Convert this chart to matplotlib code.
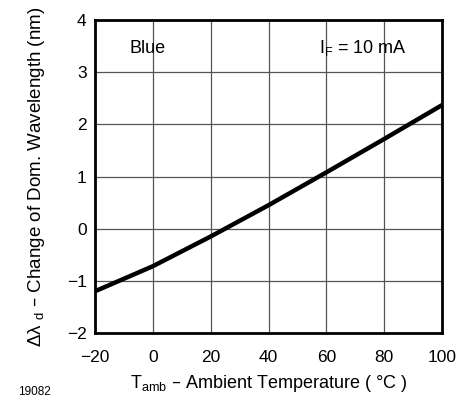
import numpy as np
import matplotlib
matplotlib.use("Agg")
from matplotlib import pyplot as plt

plt.rcParams['font.family'] = ['Liberation Sans', 'DejaVu Sans']

# データ
t_amb = [-20, 0, 20, 40, 60, 80, 100]
d_lambda = [-1.2, -0.72, -0.15, 0.45, 1.08, 1.72, 2.37]
x_ticks = [-20, 0, 20, 40, 60, 80, 100]
y_ticks = [-2, -1, 0, 1, 2, 3, 4]

fig = plt.figure(figsize=(4.6, 4.01), dpi=100)
ax = fig.add_axes([0.2065, 0.1696, 0.7545, 0.7804])

ax.plot(t_amb, d_lambda, color="black", linewidth=3.2, solid_capstyle="butt", zorder=3)

ax.set_xlim(-20, 100)
ax.set_ylim(-2, 4)
ax.set_xticks(x_ticks)
ax.set_yticks(y_ticks)
ax.set_xticklabels(["\u221220" if v < 0 else str(v) for v in x_ticks])
ax.set_yticklabels(["\u2212" + str(-v) if v < 0 else str(v) for v in y_ticks])
ax.tick_params(length=0, labelsize=12.5)
ax.tick_params(axis="x", pad=12)
ax.tick_params(axis="y", pad=6)
ax.grid(True, color="#555555", linewidth=0.9)
for s in ax.spines.values():
    s.set_linewidth(2)

ax.text(0.10, 0.91, "Blue", transform=ax.transAxes, fontsize=13, va="center")
ax.text(0.645, 0.91, "I$_\\mathregular{F}$ = 10 mA", transform=ax.transAxes, fontsize=13, va="center")

ax.set_xlabel("T$_\\mathregular{amb}$ \u2013 Ambient Temperature ( \u00b0C )", fontsize=13, labelpad=6)
ax.set_ylabel("\u0394\u03bb $_\\mathregular{d}$ \u2013 Change of Dom. Wavelength (nm)", fontsize=13.5, labelpad=14)

fig.text(18 / 460, 1 - 392 / 401, "19082", fontsize=8.5, va="center")

plt.savefig("out.png")
